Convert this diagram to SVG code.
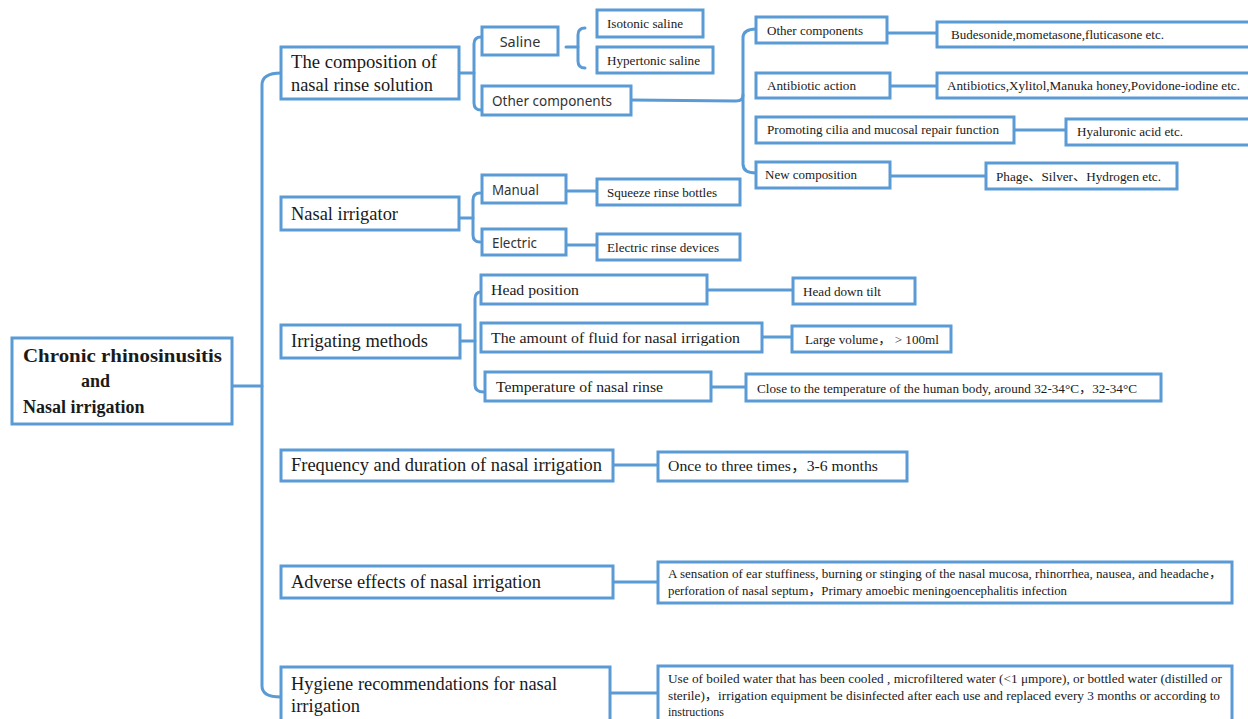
<svg xmlns="http://www.w3.org/2000/svg" width="1248" height="719" viewBox="0 0 1248 719">
<style>
.b{fill:#fff;stroke:#5b9bd5;stroke-width:3}
.c{fill:none;stroke:#5b9bd5;stroke-width:3;stroke-linecap:round;stroke-linejoin:round}
text{fill:#1a1a1a;font-family:"Liberation Serif","Noto Sans CJK SC",serif}
.root{font-size:18px;font-weight:bold;font-family:"Liberation Serif","DejaVu Serif",serif}
.l1{font-size:18px}
.s2{font-size:14.5px;font-family:"Noto Sans","Noto Sans CJK SC",sans-serif;fill:#333}
.m{font-size:15px}
.l3{font-size:13px}
.l4{font-size:14px}
.sm{font-size:12px}
</style>
<rect width="1248" height="719" fill="#fff"/>
<g id="connectors">
<path class="c" d="M232 386 L262 386"/>
<path class="c" d="M281 73 Q262 73 262 85 L262 686 Q262 697 281 697"/>
<path class="c" d="M460 73 L474 73"/>
<path class="c" d="M481 37 Q474 37 474 44 L474 103 Q474 110 481 110"/>
<path class="c" d="M566 47 L578 47"/>
<path class="c" d="M585 28 Q578 28 578 35 L578 61 Q578 68 585 68"/>
<path class="c" d="M631 100 L736 101 Q743 101 743 95"/>
<path class="c" d="M756 29 Q743 29 743 38 L743 164 Q743 173 756 173"/>
<path class="c" d="M887 33 L937 33"/>
<path class="c" d="M890 86 L937 86"/>
<path class="c" d="M1014 130 L1066 130"/>
<path class="c" d="M890 176 L986 176"/>
<path class="c" d="M458 218 L473 218"/>
<path class="c" d="M480 193 Q473 193 473 200 L473 235 Q473 242 480 242"/>
<path class="c" d="M566 191 L597 191"/>
<path class="c" d="M566 245 L597 245"/>
<path class="c" d="M460 341 L475 341"/>
<path class="c" d="M481 292 Q475 292 475 299 L475 385 Q475 392 484 392"/>
<path class="c" d="M707 290 L793 290"/>
<path class="c" d="M762 337 L792 337"/>
<path class="c" d="M711 387 L746 387"/>
<path class="c" d="M613 465 L658 465"/>
<path class="c" d="M613 582 L658 582"/>
<path class="c" d="M610 693 L658 693"/>
</g>
<g id="root"><rect class="b" x="12" y="338" width="220" height="86"/>
<text class="root" x="23" y="362" textLength="199" lengthAdjust="spacingAndGlyphs">Chronic rhinosinusitis</text>
<text class="root" x="81" y="387">and</text>
<text class="root" x="23" y="413">Nasal irrigation</text></g>
<g id="composition"><rect class="b" x="281" y="47" width="178" height="52"/>
<text class="l1" x="291" y="68" textLength="146" lengthAdjust="spacingAndGlyphs">The composition of</text>
<text class="l1" x="291" y="91" textLength="142" lengthAdjust="spacingAndGlyphs">nasal rinse solution</text></g>
<g id="irrigator"><rect class="b" x="281" y="197" width="178" height="33"/>
<text class="l1" x="291" y="220" textLength="107" lengthAdjust="spacingAndGlyphs">Nasal irrigator</text></g>
<g id="methods"><rect class="b" x="281" y="325" width="179" height="33"/>
<text class="l1" x="291" y="347" textLength="137" lengthAdjust="spacingAndGlyphs">Irrigating methods</text></g>
<g id="frequency"><rect class="b" x="281" y="450" width="332" height="31"/>
<text class="l1" x="291" y="471" textLength="311" lengthAdjust="spacingAndGlyphs">Frequency and duration of nasal irrigation</text></g>
<g id="adverse"><rect class="b" x="281" y="566" width="332" height="32"/>
<text class="l1" x="291" y="588" textLength="250" lengthAdjust="spacingAndGlyphs">Adverse effects of nasal irrigation</text></g>
<g id="hygiene"><rect class="b" x="281" y="667" width="329" height="60"/>
<text class="l1" x="291" y="690" textLength="266" lengthAdjust="spacingAndGlyphs">Hygiene recommendations for nasal</text>
<text class="l1" x="291" y="712" textLength="69" lengthAdjust="spacingAndGlyphs">irrigation</text></g>
<g id="saline"><rect class="b" x="482" y="27" width="76" height="28"/>
<text class="s2" x="520" y="47" text-anchor="middle">Saline</text></g>
<g id="other2"><rect class="b" x="482" y="86" width="149" height="29"/>
<text class="s2" x="492" y="106" textLength="120" lengthAdjust="spacingAndGlyphs">Other components</text></g>
<g id="isotonic"><rect class="b" x="597" y="10" width="106" height="27"/>
<text class="sm" x="607" y="28" textLength="76" lengthAdjust="spacingAndGlyphs">Isotonic saline</text></g>
<g id="hypertonic"><rect class="b" x="597" y="47" width="116" height="26"/>
<text class="sm" x="607" y="65" textLength="93" lengthAdjust="spacingAndGlyphs">Hypertonic saline</text></g>
<g id="other3"><rect class="b" x="756" y="17" width="131" height="26"/>
<text class="l3" x="767" y="35" textLength="96" lengthAdjust="spacingAndGlyphs">Other components</text></g>
<g id="budesonide"><rect class="b" x="937" y="22" width="320" height="25"/>
<text class="sm" x="951" y="39" textLength="213" lengthAdjust="spacingAndGlyphs">Budesonide,mometasone,fluticasone etc.</text></g>
<g id="antibiotic"><rect class="b" x="756" y="73" width="134" height="25"/>
<text class="l3" x="767" y="90" textLength="89" lengthAdjust="spacingAndGlyphs">Antibiotic action</text></g>
<g id="antibiotics"><rect class="b" x="937" y="73" width="320" height="25"/>
<text class="sm" x="947" y="90" textLength="293" lengthAdjust="spacingAndGlyphs">Antibiotics,Xylitol,Manuka honey,Povidone-iodine etc.</text></g>
<g id="promoting"><rect class="b" x="756" y="117" width="258" height="26"/>
<text class="l3" x="767" y="134" textLength="232" lengthAdjust="spacingAndGlyphs">Promoting cilia and mucosal repair function</text></g>
<g id="hyaluronic"><rect class="b" x="1066" y="119" width="191" height="26"/>
<text class="sm" x="1077" y="136" textLength="106" lengthAdjust="spacingAndGlyphs">Hyaluronic acid etc.</text></g>
<g id="newcomp"><rect class="b" x="756" y="162" width="134" height="26"/>
<text class="l3" x="765" y="179" textLength="92" lengthAdjust="spacingAndGlyphs">New composition</text></g>
<g id="phage"><rect class="b" x="986" y="163" width="191" height="26"/>
<text class="sm" x="996" y="181" textLength="165" lengthAdjust="spacingAndGlyphs">Phage、Silver、Hydrogen etc.</text></g>
<g id="manual"><rect class="b" x="482" y="175" width="84" height="28"/>
<text class="s2" x="492" y="195" textLength="47" lengthAdjust="spacingAndGlyphs">Manual</text></g>
<g id="electric"><rect class="b" x="482" y="229" width="84" height="26"/>
<text class="s2" x="492" y="248" textLength="45" lengthAdjust="spacingAndGlyphs">Electric</text></g>
<g id="squeeze"><rect class="b" x="597" y="179" width="143" height="26"/>
<text class="sm" x="607" y="197" textLength="110" lengthAdjust="spacingAndGlyphs">Squeeze rinse bottles</text></g>
<g id="electricdev"><rect class="b" x="597" y="234" width="143" height="26"/>
<text class="sm" x="607" y="252" textLength="112" lengthAdjust="spacingAndGlyphs">Electric rinse devices</text></g>
<g id="head"><rect class="b" x="481" y="275" width="226" height="29"/>
<text class="m" x="491" y="295" textLength="88" lengthAdjust="spacingAndGlyphs">Head position</text></g>
<g id="amount"><rect class="b" x="481" y="323" width="281" height="29"/>
<text class="m" x="491" y="343" textLength="249" lengthAdjust="spacingAndGlyphs">The amount of fluid for nasal irrigation</text></g>
<g id="temperature"><rect class="b" x="485" y="372" width="226" height="29"/>
<text class="m" x="496" y="392" textLength="167" lengthAdjust="spacingAndGlyphs">Temperature of nasal rinse</text></g>
<g id="headdown"><rect class="b" x="793" y="278" width="122" height="26"/>
<text class="sm" x="803" y="296" textLength="78" lengthAdjust="spacingAndGlyphs">Head down tilt</text></g>
<g id="large"><rect class="b" x="792" y="326" width="159" height="26"/>
<text class="sm" x="805" y="344" textLength="134" lengthAdjust="spacingAndGlyphs">Large volume，  &gt; 100ml</text></g>
<g id="close"><rect class="b" x="746" y="374" width="415" height="27"/>
<text class="sm" x="757" y="393" textLength="380" lengthAdjust="spacingAndGlyphs">Close to the temperature of the human body, around 32-34°C，32-34°C</text></g>
<g id="once"><rect class="b" x="658" y="452" width="249" height="29"/>
<text class="l4" x="668" y="471" textLength="210" lengthAdjust="spacingAndGlyphs">Once to three times，3-6 months</text></g>
<g id="adversetext"><rect class="b" x="658" y="562" width="574" height="41"/>
<text class="sm" x="668" y="578" textLength="554" lengthAdjust="spacingAndGlyphs">A sensation of ear stuffiness, burning or stinging of the nasal mucosa, rhinorrhea, nausea, and headache，</text>
<text class="sm" x="668" y="595" textLength="399" lengthAdjust="spacingAndGlyphs">perforation of nasal septum，Primary amoebic meningoencephalitis infection</text></g>
<g id="hygienetext"><rect class="b" x="658" y="666" width="574" height="64"/>
<text class="sm" x="668" y="683" textLength="554" lengthAdjust="spacingAndGlyphs">Use of boiled water that has been cooled , microfiltered water (&lt;1 μmpore), or bottled water (distilled or</text>
<text class="sm" x="668" y="700" textLength="552" lengthAdjust="spacingAndGlyphs">sterile)，irrigation equipment be disinfected after each use and replaced every 3 months or according to</text>
<text class="sm" x="668" y="716">instructions</text></g>
</svg>
